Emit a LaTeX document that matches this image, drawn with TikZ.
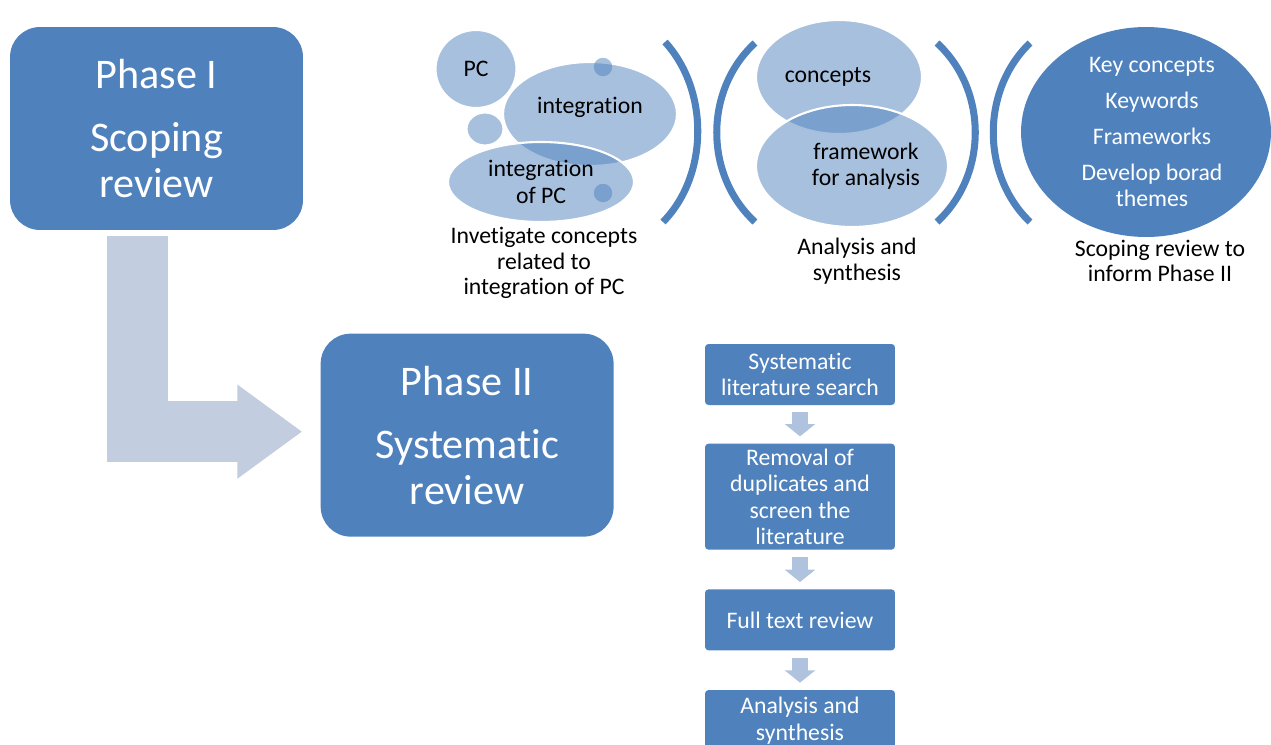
\documentclass[tikz,border=0pt]{standalone}
\usepackage{fontspec}
\setmainfont{Carlito}[Ligatures=NoCommon]
\usepackage{tikz}
\usetikzlibrary{arrows.meta}
\usetikzlibrary{positioning}
\usetikzlibrary{shapes.geometric}
\definecolor{accent}{HTML}{4F81BD}
\definecolor{pale}{HTML}{C2CDE0}
\definecolor{paleb}{HTML}{AFC3DF}
\begin{document}
\begin{tikzpicture}[x=0.02cm,y=-0.02cm,
 phase/.style={fill=accent,rounded corners=0.6cm,minimum width=5.86cm,minimum height=4.06cm,text=white,align=center,font=\fontsize{24}{26}\selectfont},
 stepbox/.style={fill=accent,rounded corners=2pt,inner sep=1pt,minimum width=3.8cm,minimum height=1.22cm,text=white,align=center,font=\fontsize{13.5}{15}\selectfont},
 bubble/.style={ellipse,draw=white,line width=1.2pt,fill=accent,fill opacity=0.5,text opacity=1,inner sep=0pt,font=\fontsize{13.5}{15}\selectfont},
 spot/.style={circle,fill=accent,fill opacity=0.5,inner sep=0pt,minimum size=0.37cm},
 lbl/.style={align=center,font=\fontsize{13.5}{14.6}\selectfont},
 brace/.style={accent,line width=4pt},
 down/.style={paleb,line width=9pt,-{Triangle[length=7pt,width=17pt]}}]
 \useasboundingbox (0,0) rectangle (1271,744);
 \node[phase] (p1) at (156.5,128.5) {Phase I\\[10pt]Scoping\\review};
 \node[phase,below right=2.06cm and 0.34cm of p1] (p2) {Phase II\\[10pt]Systematic\\review};
 \draw[pale,line width=34.7pt,line join=miter,-{Triangle[length=37pt,width=51pt]}]
   ([xshift=-0.38cm,yshift=-0.12cm]p1.south) |- ([xshift=-0.36cm,yshift=0.07cm]p2.west);

 \node[bubble,minimum width=1.62cm,minimum height=1.56cm] (pc) at (476,69) {PC};
 \node[bubble,minimum width=0.74cm,minimum height=0.66cm] (tiny) at (485,129) {};
 \node[bubble,minimum width=3.48cm,minimum height=2.08cm] (integ) at (590,114) {};
 \node[bubble,minimum width=3.72cm,minimum height=1.6cm,align=center] (intpc) at (541,182) {integration\\of PC};
 \node[spot] (d1) at (603,67) {};
 \node[spot] (d2) at (603,193) {};
 \node[lbl] (tinteg) at ([yshift=0.14cm]integ.center) {integration};
 \node[lbl] (l1) at (544,263) {Invetigate concepts\\related to\\integration of PC};
 \draw[brace] (665,42) .. controls (709,90) and (709,175) .. (663,222);

 \draw[brace] (755,43) .. controls (704,90) and (704,175) .. (755,222);
 \node[bubble,minimum width=3.32cm,minimum height=2.28cm] (conc) at (839,77) {};
 \node[bubble,minimum width=3.84cm,minimum height=2.44cm] (fw) at (852,166) {};
 \node[lbl] (tconc) at ([xshift=-0.22cm]conc.center) {concepts};
 \node[lbl] (tfw) at ([xshift=0.28cm]fw.center) {framework\\for analysis};
 \node[lbl] (l2) at (857,261) {Analysis and\\synthesis};
 \draw[brace] (937,43) .. controls (988,90) and (988,175) .. (937,222);

 \draw[brace] (1030,43) .. controls (981,90) and (981,175) .. (1030,222);
 \node[ellipse,fill=accent,inner sep=0pt,minimum width=5cm,minimum height=4.2cm] (keys) at (1146,132) {};
 \node[lbl,text=white,font=\fontsize{13.5}{14.8}\selectfont] (tkeys) at ([xshift=0.12cm]keys.center)
   {Key concepts\\[5.7pt]Keywords\\[5.7pt]Frameworks\\[5.7pt]Develop borad\\themes};
 \node[lbl] (l3) at (1160,261) {Scoping review to\\inform Phase II};

 \node[stepbox] (s1) at (800,374.5) {Systematic\\literature search};
 \node[stepbox,below=0.76cm of s1,minimum height=2.12cm] (s2) {Removal of\\duplicates and\\screen the\\literature};
 \node[stepbox,below=0.78cm of s2] (s3) {Full text review};
 \node[stepbox,below=0.78cm of s3] (s4) {Analysis and\\synthesis};
 \draw[down] ([yshift=-0.14cm]s1.south) -- ([yshift=0.14cm]s2.north);
 \draw[down] ([yshift=-0.14cm]s2.south) -- ([yshift=0.14cm]s3.north);
 \draw[down] ([yshift=-0.14cm]s3.south) -- ([yshift=0.14cm]s4.north);
\end{tikzpicture}
\end{document}
